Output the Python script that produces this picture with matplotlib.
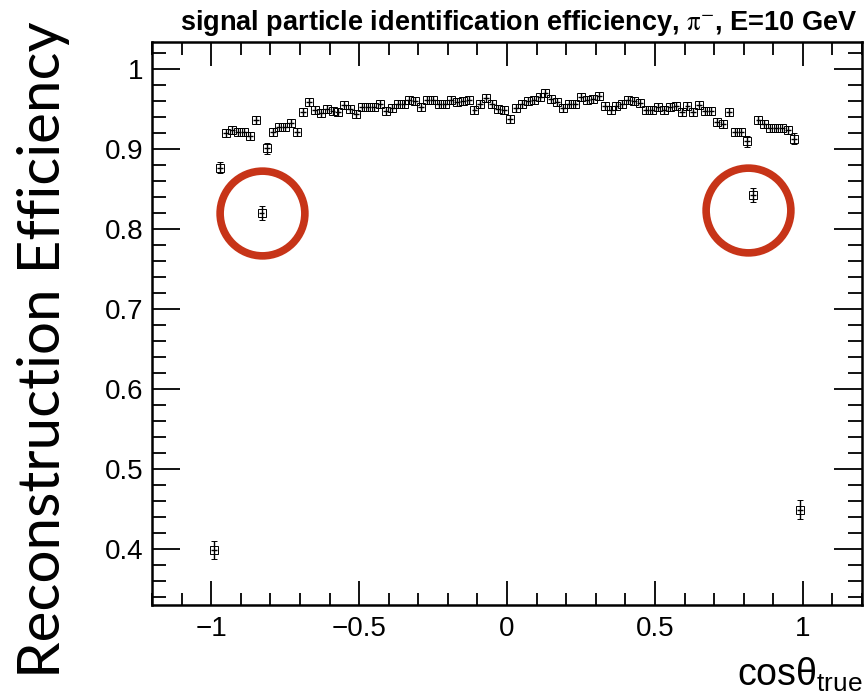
import numpy as np
import matplotlib
matplotlib.use("Agg")
import matplotlib.pyplot as plt
from matplotlib.ticker import MultipleLocator, FuncFormatter

# bin centres of cos(theta_true), 100 bins from -1 to 1
cos_theta = np.round(np.arange(-0.99, 1.0, 0.02), 2)

efficiency = [
    0.399, 0.877, 0.920, 0.924, 0.921, 0.921, 0.916, 0.937, 0.820, 0.901,
    0.922, 0.928, 0.928, 0.933, 0.921, 0.946, 0.959, 0.949, 0.945, 0.950,
    0.948, 0.946, 0.955, 0.950, 0.944, 0.953, 0.953, 0.953, 0.956, 0.948,
    0.951, 0.956, 0.956, 0.961, 0.960, 0.953, 0.962, 0.962, 0.957, 0.957,
    0.962, 0.959, 0.960, 0.961, 0.949, 0.956, 0.964, 0.957, 0.950, 0.949,
    0.938, 0.951, 0.956, 0.960, 0.961, 0.965, 0.970, 0.963, 0.959, 0.951,
    0.956, 0.957, 0.965, 0.961, 0.963, 0.967, 0.954, 0.949, 0.954, 0.957,
    0.961, 0.960, 0.958, 0.949, 0.949, 0.953, 0.949, 0.953, 0.954, 0.946,
    0.954, 0.946, 0.955, 0.948, 0.948, 0.934, 0.932, 0.946, 0.921, 0.921,
    0.910, 0.843, 0.936, 0.931, 0.926, 0.927, 0.927, 0.924, 0.913, 0.449,
]

eff_err = [
    0.011, 0.007, 0.005, 0.005, 0.005, 0.005, 0.005, 0.005, 0.009, 0.007,
] + [0.005] * 80 + [
    0.007, 0.009, 0.005, 0.005, 0.005, 0.005, 0.005, 0.005, 0.007, 0.012,
]

# points highlighted with a red ring
circled_x = [-0.83, 0.815]
circled_y = [0.820, 0.824]

title = r"signal particle identification efficiency, $\mathrm{\pi}^{-}$, E=10 GeV"

plt.rcParams["mathtext.fontset"] = "custom"
plt.rcParams["mathtext.rm"] = "Liberation Sans"
plt.rcParams["mathtext.it"] = "Liberation Sans:italic"
plt.rcParams["font.family"] = ["Liberation Sans", "DejaVu Sans"]

fig = plt.figure(figsize=(8.64, 6.97), dpi=100)
ax = fig.add_axes([0.176, 0.132, 0.8217, 0.8077])

ax.plot(circled_x, circled_y, "o", ms=61, mfc="none", mec="#c4290b",
        mew=5.5, alpha=0.95, zorder=1)

# x errors (half bin width), no caps
ax.errorbar(cos_theta, efficiency, xerr=0.01, fmt="none", ecolor="black",
            elinewidth=1.0, capsize=0, zorder=2)
# y errors with caps
ax.errorbar(cos_theta, efficiency, yerr=eff_err, fmt="s", ms=5.8,
            mfc="none", mec="black", mew=0.7, ecolor="black",
            elinewidth=1.0, capsize=2.5, capthick=1.0, zorder=3)

ax.set_xlim(-1.2, 1.2)
ax.set_ylim(0.33, 1.034)

ax.xaxis.set_major_locator(MultipleLocator(0.5))
ax.xaxis.set_minor_locator(MultipleLocator(0.1))
ax.yaxis.set_major_locator(MultipleLocator(0.1))
ax.yaxis.set_minor_locator(MultipleLocator(0.02))

fmt = FuncFormatter(lambda v, p: ("%g" % round(v, 3)).replace("-", "\u2212"))
ax.xaxis.set_major_formatter(fmt)
ax.yaxis.set_major_formatter(fmt)

ax.tick_params(which="both", direction="in", top=True, right=True,
               labelsize=20, width=1.3)
ax.tick_params(axis="x", which="major", length=17, pad=8)
ax.tick_params(axis="x", which="minor", length=9)
ax.tick_params(axis="y", which="major", length=20, pad=6)
ax.tick_params(axis="y", which="minor", length=10)
for s in ax.spines.values():
    s.set_linewidth(1.8)

fig.text(0.993, 0.957, title, ha="right", va="baseline", fontsize=19.5,
         fontweight="bold", math_fontfamily="stix")

fig.text(0.998, 0.005, r"cos$\mathrm{\theta}_{\mathrm{true}}$", ha="right",
         va="bottom", fontsize=27)

fig.text(0.05, 0.498, "Reconstruction Efficiency", rotation=90,
         ha="center", va="center", fontsize=42, family="Lato")

fig.savefig("out.png", dpi=100)
